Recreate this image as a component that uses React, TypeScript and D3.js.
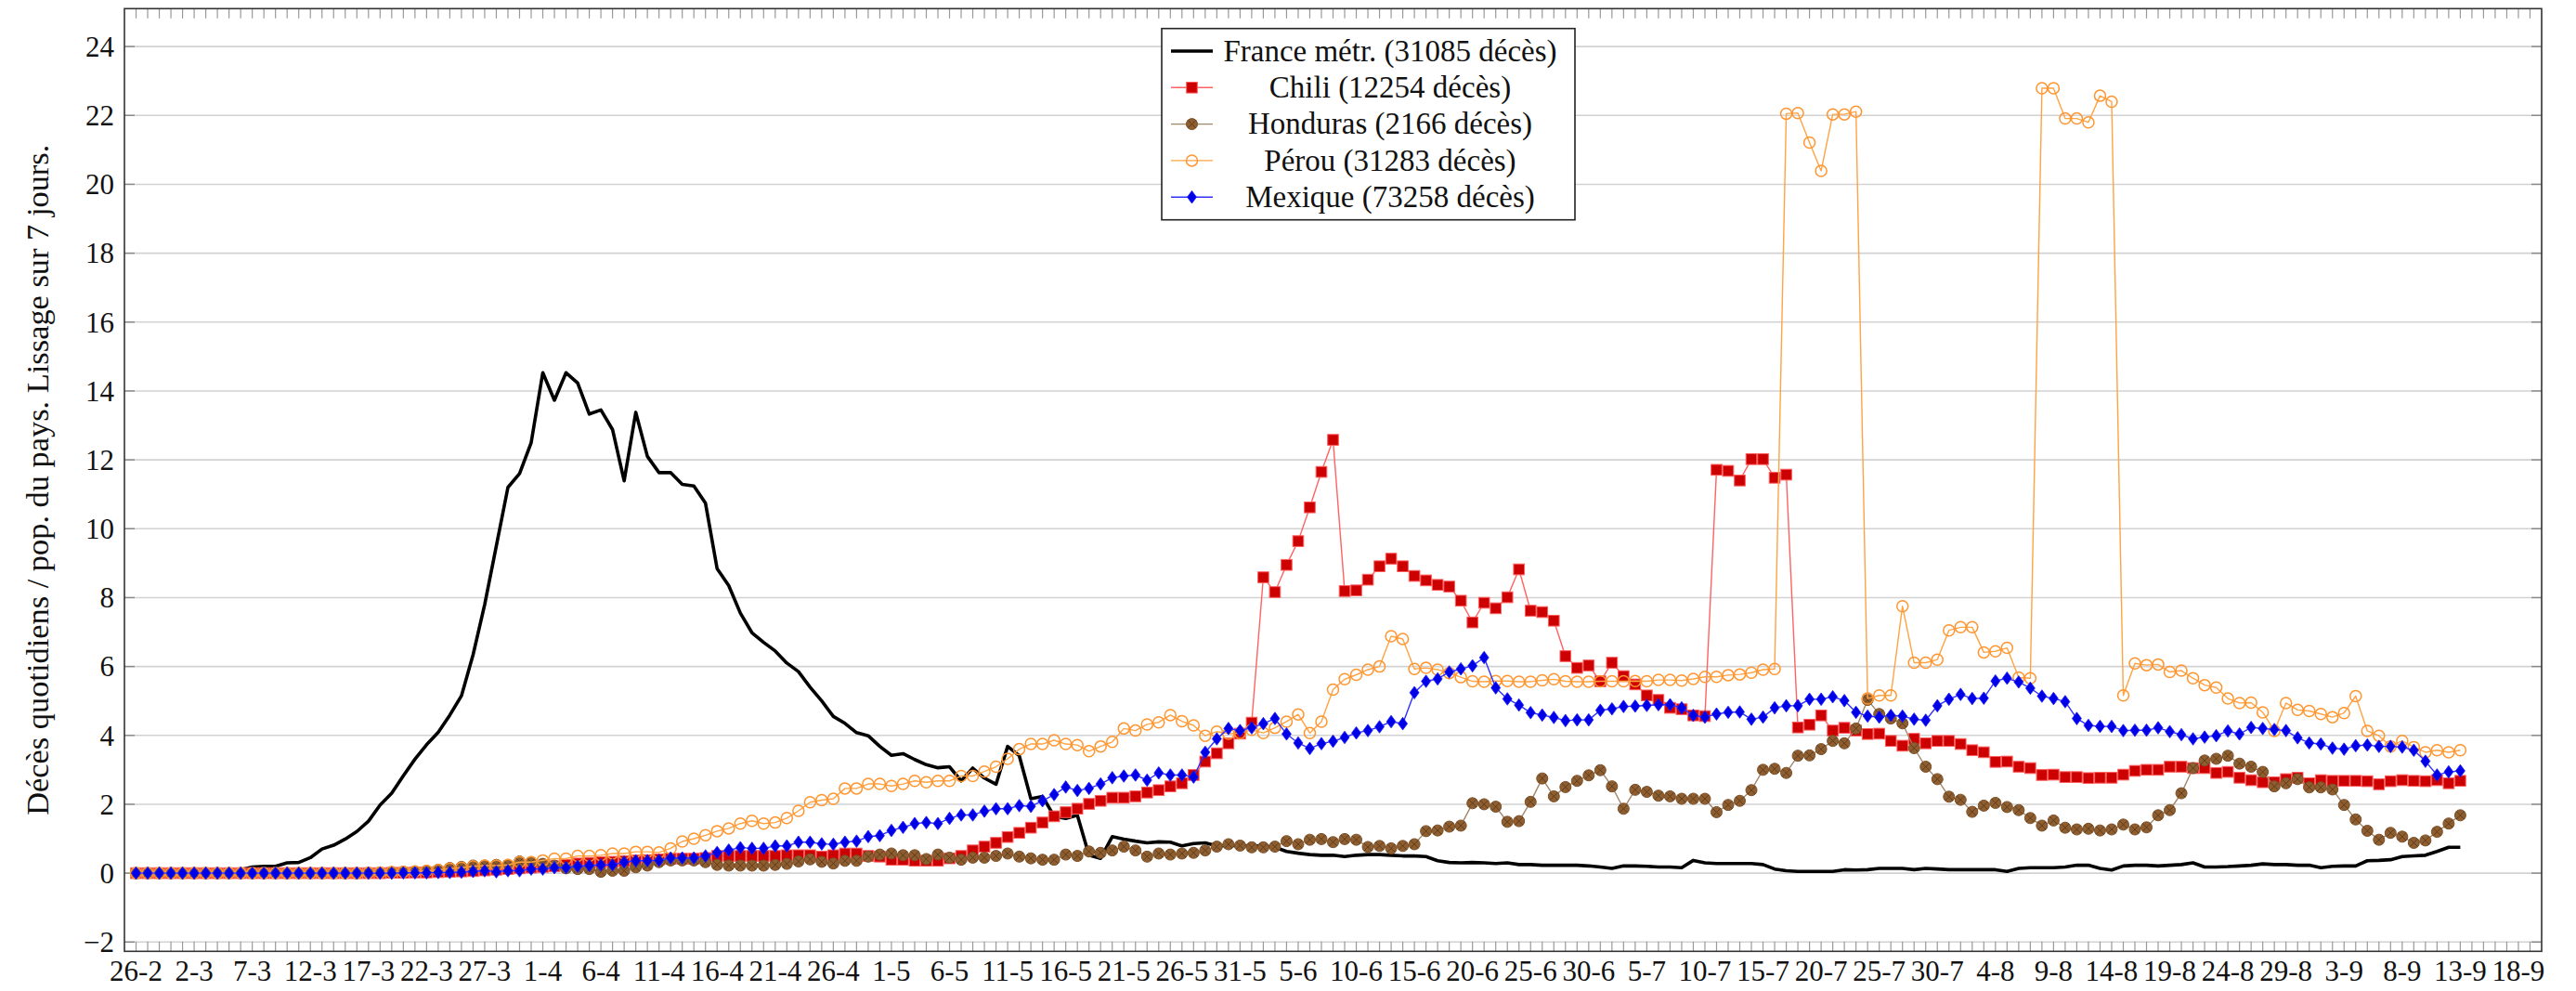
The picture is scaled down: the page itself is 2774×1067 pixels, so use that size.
import React from 'react';
import * as d3 from 'd3';

// 7-day smoothed daily deaths per country population, one value per day from 26-2 to 13-9
const dateLabels = [
  '26-2', '2-3', '7-3', '12-3', '17-3', '22-3', '27-3', '1-4', '6-4', '11-4', '16-4', '21-4',
  '26-4', '1-5', '6-5', '11-5', '16-5', '21-5', '26-5', '31-5', '5-6', '10-6', '15-6', '20-6',
  '25-6', '30-6', '5-7', '10-7', '15-7', '20-7', '25-7', '30-7', '4-8', '9-8', '14-8', '19-8',
  '24-8', '29-8', '3-9', '8-9', '13-9', '18-9',
];
const yTicks = [-2, 0, 2, 4, 6, 8, 10, 12, 14, 16, 18, 20, 22, 24];

const france = [
  0, 0, 0, 0, 0, 0, 0.01, 0.02, 0.04, 0.1,
  0.18, 0.2, 0.2, 0.3, 0.31, 0.45, 0.7, 0.81, 0.99, 1.21,
  1.51, 1.98, 2.32, 2.83, 3.31, 3.73, 4.09, 4.59, 5.15, 6.34,
  7.8, 9.5, 11.2, 11.6, 12.5, 14.53, 13.73, 14.53, 14.23, 13.33,
  13.45, 12.88, 11.39, 13.38, 12.1, 11.63, 11.63, 11.29, 11.24, 10.74,
  8.84, 8.35, 7.55, 6.98, 6.7, 6.45, 6.1, 5.85, 5.4, 5.0,
  4.55, 4.35, 4.08, 3.99, 3.68, 3.42, 3.47, 3.3, 3.15, 3.06,
  3.09, 2.68, 3.05, 2.76, 2.58, 3.68, 3.41, 2.16, 2.23, 1.65,
  1.59, 1.68, 0.52, 0.43, 1.06, 0.99, 0.93, 0.88, 0.91, 0.9,
  0.79, 0.86, 0.88, 0.79, 0.8, 0.8, 0.79, 0.79, 0.75, 0.63,
  0.58, 0.54, 0.52, 0.52, 0.48, 0.52, 0.54, 0.54, 0.52, 0.5,
  0.5, 0.48, 0.36, 0.31, 0.3, 0.31, 0.3, 0.28, 0.3, 0.25,
  0.25, 0.23, 0.23, 0.23, 0.23, 0.21, 0.18, 0.14, 0.21, 0.21,
  0.2, 0.18, 0.18, 0.16, 0.37, 0.3, 0.28, 0.28, 0.28, 0.28,
  0.25, 0.12, 0.07, 0.05, 0.05, 0.05, 0.05, 0.1, 0.09, 0.1,
  0.14, 0.14, 0.14, 0.1, 0.14, 0.12, 0.1, 0.1, 0.1, 0.1,
  0.1, 0.05, 0.14, 0.16, 0.16, 0.16, 0.18, 0.23, 0.23, 0.14,
  0.09, 0.21, 0.23, 0.23, 0.21, 0.23, 0.25, 0.3, 0.18, 0.18,
  0.19, 0.21, 0.23, 0.27, 0.25, 0.25, 0.23, 0.23, 0.16, 0.2,
  0.21, 0.21, 0.36, 0.37, 0.39, 0.48, 0.5, 0.52, 0.63, 0.75, 0.75,
];

const chili = [
  0, 0, 0, 0, 0, 0, 0, 0, 0, 0,
  0, 0, 0, 0, 0, 0, 0, 0, 0, 0,
  0, 0, 0.01, 0.01, 0.02, 0.02, 0.03, 0.04, 0.05, 0.06,
  0.08, 0.1, 0.12, 0.14, 0.16, 0.18, 0.2, 0.24, 0.28, 0.3,
  0.32, 0.33, 0.35, 0.37, 0.38, 0.4, 0.42, 0.42, 0.42, 0.44,
  0.5, 0.5, 0.5, 0.5, 0.5, 0.5, 0.52, 0.52, 0.52, 0.48,
  0.52, 0.57, 0.57, 0.5, 0.48, 0.39, 0.39, 0.36, 0.36, 0.36,
  0.43, 0.5, 0.66, 0.77, 0.88, 1.05, 1.17, 1.32, 1.47, 1.65,
  1.77, 1.87, 2.01, 2.1, 2.19, 2.19, 2.23, 2.34, 2.41, 2.52,
  2.61, 2.85, 3.24, 3.48, 3.77, 4.05, 4.37, 8.59, 8.16, 8.95,
  9.64, 10.62, 11.65, 12.58, 8.19, 8.21, 8.52, 8.91, 9.13, 8.91,
  8.63, 8.5, 8.37, 8.32, 7.91, 7.28, 7.85, 7.69, 8.01, 8.82,
  7.62, 7.58, 7.33, 6.3, 5.96, 6.03, 5.57, 6.11, 5.72, 5.48,
  5.16, 5.03, 4.8, 4.76, 4.58, 4.56, 11.71, 11.68, 11.4, 12.02,
  12.02, 11.48, 11.57, 4.23, 4.31, 4.58, 4.14, 4.22, 4.14, 4.04,
  4.05, 3.84, 3.7, 3.9, 3.77, 3.84, 3.84, 3.75, 3.57, 3.51,
  3.23, 3.24, 3.09, 3.05, 2.85, 2.86, 2.79, 2.79, 2.76, 2.77,
  2.77, 2.86, 2.97, 3.0, 3.0, 3.09, 3.09, 3.05, 3.05, 2.91,
  2.94, 2.77, 2.7, 2.64, 2.64, 2.73, 2.77, 2.61, 2.7, 2.68,
  2.68, 2.68, 2.67, 2.58, 2.67, 2.7, 2.68, 2.67, 2.7, 2.61, 2.68,
];

const honduras = [
  0, 0, 0, 0, 0, 0, 0, 0, 0, 0,
  0, 0, 0, 0, 0, 0, 0, 0, 0, 0,
  0.01, 0.02, 0.03, 0.04, 0.05, 0.06, 0.1, 0.15, 0.18, 0.22,
  0.22, 0.24, 0.24, 0.34, 0.32, 0.27, 0.22, 0.14, 0.12, 0.12,
  0.04, 0.07, 0.07, 0.17, 0.22, 0.32, 0.37, 0.37, 0.37, 0.32,
  0.24, 0.22, 0.22, 0.22, 0.22, 0.24, 0.27, 0.34, 0.4, 0.33,
  0.28, 0.36, 0.36, 0.48, 0.54, 0.57, 0.52, 0.52, 0.41, 0.54,
  0.45, 0.39, 0.45, 0.45, 0.5, 0.57, 0.48, 0.43, 0.39, 0.39,
  0.54, 0.5, 0.63, 0.59, 0.66, 0.77, 0.66, 0.48, 0.57, 0.54,
  0.57, 0.59, 0.66, 0.77, 0.84, 0.8, 0.75, 0.75, 0.77, 0.93,
  0.84, 0.97, 0.99, 0.9, 0.99, 0.97, 0.76, 0.79, 0.72, 0.79,
  0.84, 1.22, 1.24, 1.35, 1.38, 2.03, 2.0, 1.93, 1.49, 1.51,
  2.07, 2.75, 2.23, 2.5, 2.68, 2.84, 2.99, 2.52, 1.87, 2.42,
  2.36, 2.25, 2.23, 2.16, 2.16, 2.16, 1.77, 1.98, 2.1, 2.41,
  3.0, 3.03, 2.91, 3.41, 3.42, 3.6, 3.84, 3.77, 4.2, 5.03,
  4.62, 4.49, 4.35, 3.63, 3.09, 2.73, 2.22, 2.13, 1.78, 1.96,
  2.04, 1.92, 1.83, 1.6, 1.38, 1.53, 1.32, 1.27, 1.29, 1.24,
  1.27, 1.41, 1.27, 1.33, 1.68, 1.83, 2.32, 3.05, 3.27, 3.32,
  3.41, 3.18, 3.09, 2.94, 2.52, 2.61, 2.73, 2.49, 2.49, 2.43,
  1.98, 1.56, 1.23, 0.97, 1.17, 1.06, 0.88, 0.95, 1.2, 1.44, 1.68,
];

const perou = [
  0, 0, 0, 0, 0, 0, 0, 0, 0, 0,
  0, 0, 0, 0, 0, 0, 0, 0, 0, 0,
  0.01, 0.02, 0.03, 0.04, 0.05, 0.07, 0.09, 0.13, 0.16, 0.2,
  0.22, 0.22, 0.24, 0.32, 0.32, 0.37, 0.42, 0.42, 0.5, 0.5,
  0.52, 0.57, 0.57, 0.62, 0.62, 0.6, 0.72, 0.92, 1.0, 1.1,
  1.22, 1.3, 1.44, 1.52, 1.44, 1.47, 1.6, 1.81, 2.06, 2.12,
  2.16, 2.46, 2.46, 2.59, 2.59, 2.53, 2.59, 2.68, 2.64, 2.68,
  2.68, 2.82, 2.82, 2.95, 3.09, 3.32, 3.6, 3.75, 3.75, 3.86,
  3.75, 3.72, 3.54, 3.68, 3.81, 4.2, 4.14, 4.32, 4.38, 4.59,
  4.41, 4.29, 3.99, 4.11, 4.05, 4.07, 4.16, 4.07, 4.22, 4.4,
  4.61, 4.07, 4.4, 5.33, 5.63, 5.76, 5.91, 6.0, 6.88, 6.8,
  5.93, 5.96, 5.91, 5.81, 5.69, 5.57, 5.56, 5.58, 5.58, 5.56,
  5.56, 5.6, 5.63, 5.57, 5.56, 5.56, 5.57, 5.57, 5.57, 5.58,
  5.57, 5.61, 5.61, 5.59, 5.64, 5.7, 5.7, 5.75, 5.77, 5.82,
  5.91, 5.93, 22.05, 22.07, 21.21, 20.39, 22.03, 22.03, 22.11, 5.07,
  5.16, 5.16, 7.75, 6.11, 6.11, 6.2, 7.05, 7.14, 7.14, 6.41,
  6.44, 6.54, 5.68, 5.66, 22.79, 22.79, 21.91, 21.91, 21.8, 22.57,
  22.4, 5.16, 6.09, 6.04, 6.06, 5.84, 5.88, 5.66, 5.46, 5.39,
  5.07, 4.94, 4.95, 4.67, 4.13, 4.94, 4.74, 4.71, 4.62, 4.53,
  4.65, 5.14, 4.13, 3.99, 3.68, 3.84, 3.66, 3.51, 3.57, 3.51, 3.57,
];

const mexique = [
  0, 0, 0, 0, 0, 0, 0, 0, 0, 0,
  0, 0, 0, 0, 0, 0, 0, 0, 0, 0,
  0, 0, 0, 0.01, 0.01, 0.01, 0.02, 0.02, 0.03, 0.05,
  0.07, 0.04, 0.07, 0.07, 0.12, 0.12, 0.16, 0.16, 0.2, 0.22,
  0.24, 0.24, 0.32, 0.36, 0.36, 0.37, 0.44, 0.44, 0.44, 0.5,
  0.6, 0.67, 0.74, 0.72, 0.72, 0.79, 0.79, 0.9, 0.9, 0.85,
  0.84, 0.9, 0.93, 1.06, 1.09, 1.24, 1.33, 1.44, 1.47, 1.44,
  1.59, 1.69, 1.69, 1.8, 1.87, 1.87, 1.96, 1.94, 2.1, 2.28,
  2.5, 2.4, 2.46, 2.59, 2.77, 2.82, 2.85, 2.7, 2.91, 2.85,
  2.85, 2.79, 3.51, 3.9, 4.2, 4.14, 4.22, 4.34, 4.49, 4.04,
  3.78, 3.62, 3.76, 3.83, 3.94, 4.07, 4.14, 4.25, 4.4, 4.34,
  5.24, 5.57, 5.64, 5.84, 5.93, 6.02, 6.26, 5.38, 5.06, 4.88,
  4.66, 4.59, 4.52, 4.43, 4.45, 4.45, 4.73, 4.77, 4.84, 4.85,
  4.87, 4.89, 4.89, 4.8, 4.58, 4.53, 4.62, 4.67, 4.68, 4.47,
  4.53, 4.8, 4.86, 4.86, 5.05, 5.05, 5.12, 5.01, 4.67, 4.56,
  4.53, 4.58, 4.56, 4.47, 4.44, 4.86, 5.05, 5.19, 5.07, 5.08,
  5.58, 5.66, 5.55, 5.37, 5.14, 5.07, 4.98, 4.49, 4.29, 4.26,
  4.26, 4.14, 4.15, 4.15, 4.22, 4.11, 4.02, 3.9, 3.95, 3.99,
  4.13, 4.04, 4.23, 4.2, 4.17, 4.14, 3.93, 3.78, 3.75, 3.63,
  3.6, 3.7, 3.72, 3.68, 3.68, 3.66, 3.57, 3.25, 2.85, 2.94, 2.97,
];

const seriesNames = [
  'France métr. (31085 décès)',
  'Chili (12254 décès)',
  'Honduras (2166 décès)',
  'Pérou (31283 décès)',
  'Mexique (73258 décès)',
];

const FONT = "'Liberation Serif', 'DejaVu Serif', serif";

type Mark = 'none' | 'square' | 'xcircle' | 'ocircle' | 'diamond';

const series: { name: string; values: number[]; line: string; width: number; mark: Mark }[] = [
  { name: seriesNames[0], values: france, line: '#000000', width: 3.6, mark: 'none' },
  { name: seriesNames[1], values: chili, line: '#ff6262', width: 1.4, mark: 'square' },
  { name: seriesNames[2], values: honduras, line: '#a3876b', width: 1.4, mark: 'xcircle' },
  { name: seriesNames[3], values: perou, line: '#ffa343', width: 1.4, mark: 'ocircle' },
  { name: seriesNames[4], values: mexique, line: '#3030ff', width: 1.4, mark: 'diamond' },
];

const Marker = ({ kind, cx, cy }: { kind: Mark; cx: number; cy: number }) => {
  if (kind === 'square') {
    return <rect x={cx - 5.8} y={cy - 5.8} width={11.6} height={11.6} fill="#cc0000" stroke="#ff5c5c" strokeWidth={1} />;
  }
  if (kind === 'xcircle') {
    const r = 6;
    const k = r * 0.7;
    return (
      <g>
        <circle cx={cx} cy={cy} r={r} fill="#8e5e30" stroke="#7a4f27" strokeWidth={1} />
        <path d={`M${cx - k},${cy - k}L${cx + k},${cy + k}M${cx - k},${cy + k}L${cx + k},${cy - k}`} stroke="#5e3c1a" strokeWidth={1} />
      </g>
    );
  }
  if (kind === 'ocircle') {
    return <circle cx={cx} cy={cy} r={6} fill="none" stroke="#ff9530" strokeWidth={1.5} />;
  }
  if (kind === 'diamond') {
    return <path d={`M${cx},${cy - 6.8}L${cx + 5},${cy}L${cx},${cy + 6.8}L${cx - 5},${cy}Z`} fill="#0000e6" stroke="#2020ff" strokeWidth={0.8} />;
  }
  return null;
};

export default function App() {
  const W = 2774;
  const H = 1067;
  const left = 134, right = 2737, top = 9.3, bottom = 1024.3;

  const x = d3.scaleLinear().domain([-1, 207]).range([left, right]);
  const y = d3.scaleLinear().domain([-2.27, 25.1]).range([bottom, top]);
  const line = d3.line<number>().x((_, i) => x(i)).y((v) => y(v));

  const dayTicks = d3.range(0, 207);
  const labelDays = dateLabels.map((_, i) => i * 5);

  // legend box
  const lg = { x0: 1251, y0: 30.7, x1: 1696, y1: 236.7, row0: 55, rowStep: 39.3, textX: 1497 };
  const txt = { fontFamily: FONT };

  return (
    <svg width={W} height={H} style={{ position: 'absolute', left: 0, top: 0, background: '#fff', fontFamily: FONT }}>
      <rect x={0} y={0} width={W} height={H} fill="#fff" />

      {/* horizontal grid */}
      {yTicks.map((t) => (
        <line key={'g' + t} x1={left} x2={right} y1={y(t)} y2={y(t)} stroke="#d2d2d2" strokeWidth={1.6} />
      ))}

      {/* y ticks both sides */}
      {yTicks.map((t) => (
        <g key={'yt' + t}>
          <line x1={left} x2={left + 11} y1={y(t)} y2={y(t)} stroke="#888" strokeWidth={1.4} />
          <line x1={right - 11} x2={right} y1={y(t)} y2={y(t)} stroke="#888" strokeWidth={1.4} />
        </g>
      ))}

      {/* x ticks every day, top and bottom */}
      {dayTicks.map((d) => (
        <g key={'xt' + d}>
          <line x1={x(d)} x2={x(d)} y1={bottom} y2={bottom - 10.5} stroke="#999" strokeWidth={1.2} />
          <line x1={x(d)} x2={x(d)} y1={top} y2={top + 10.5} stroke="#999" strokeWidth={1.2} />
        </g>
      ))}

      {/* series */}
      {series.map((s) => (
        <g key={s.name}>
          <path d={line(s.values) || ''} fill="none" stroke={s.line} strokeWidth={s.width} strokeLinejoin="round" />
          {s.mark !== 'none' && s.values.map((v, i) => <Marker key={i} kind={s.mark} cx={x(i)} cy={y(v)} />)}
        </g>
      ))}

      {/* frame */}
      <rect x={left} y={top} width={right - left} height={bottom - top} fill="none" stroke="#333" strokeWidth={1.6} />

      {/* y tick labels */}
      {yTicks.map((t) => (
        <text key={'yl' + t} style={txt} x={left - 11} y={y(t)} dy="0.35em" textAnchor="end" fontSize={31} fill="#111">
          {t < 0 ? '\u2212' + Math.abs(t) : t}
        </text>
      ))}

      {/* x tick labels */}
      {dateLabels.map((lab, i) => (
        <text key={'xl' + lab} style={txt} x={x(labelDays[i])} y={1056} textAnchor="middle" fontSize={31} fill="#111">
          {lab}
        </text>
      ))}

      {/* y axis title */}
      <text style={txt} transform={`translate(40,${(top + bottom) / 2}) rotate(-90)`} textAnchor="middle" dy="0.35em" fontSize={34.4} fill="#111">
        Décès quotidiens / pop. du pays. Lissage sur 7 jours.
      </text>

      {/* legend */}
      <rect x={lg.x0} y={lg.y0} width={lg.x1 - lg.x0} height={lg.y1 - lg.y0} fill="#fff" stroke="#222" strokeWidth={1.6} />
      {series.map((s, i) => {
        const cy = lg.row0 + i * lg.rowStep;
        return (
          <g key={'lg' + s.name}>
            <line x1={1261} x2={1306} y1={cy} y2={cy} stroke={s.line} strokeWidth={s.width} />
            <Marker kind={s.mark} cx={1283.5} cy={cy} />
            <text style={txt} x={lg.textX} y={cy} dy="0.33em" textAnchor="middle" fontSize={33} fill="#111">
              {s.name}
            </text>
          </g>
        );
      })}
    </svg>
  );
}
